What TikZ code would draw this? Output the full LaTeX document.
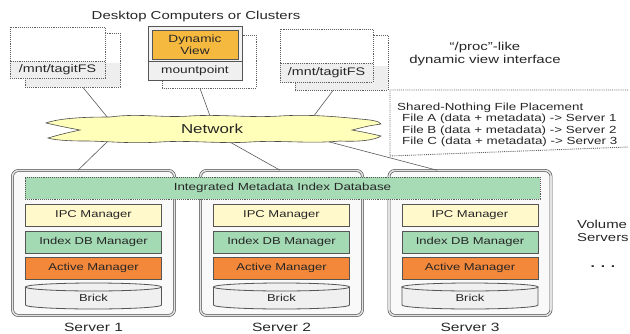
\documentclass[tikz,border=0pt]{standalone}
\usepackage{fontspec}
\setmainfont[FakeStretch=1.3]{Liberation Sans}
\usetikzlibrary{calc}
\definecolor{txt}{HTML}{262626}
\definecolor{bordc}{HTML}{555555}
\definecolor{ipcc}{HTML}{FFF9CC}
\definecolor{idxc}{HTML}{A3D9B3}
\definecolor{actc}{HTML}{F4883A}
\definecolor{dync}{HTML}{F6B940}
\definecolor{netc}{HTML}{FFFFBA}
\definecolor{dbc}{HTML}{A6DBB6}
\begin{document}
\begin{tikzpicture}[x=1pt,y=-1pt,
  lbl/.style={text=txt, inner sep=0pt},
  box/.style={draw=bordc, line width=0.8pt, inner sep=0pt, text=txt, font=\fontsize{10}{12}\selectfont},
  dotbox/.style={draw=gray!75!black, densely dotted, line width=0.9pt, inner sep=0pt, text=txt, font=\fontsize{10.5}{12}\selectfont},
  solidbox/.style={draw=bordc, line width=1pt, inner sep=0pt, text=txt, font=\fontsize{10.5}{12}\selectfont},
  conn/.style={draw=gray!70!black, line width=0.6pt},
  srv/.style={draw=gray!60!black, line width=0.6pt, double=gray!22, double distance=1.6pt, fill=gray!5, rounded corners=6pt, inner sep=0pt}
]
\useasboundingbox (0,0) rectangle (630,333);

% title
\node[lbl, font=\fontsize{11.5}{13}\selectfont] (title) at (196,17) {Desktop Computers or Clusters};

% ---- left client
\fill[gray!13] (25,63) rectangle (120,87);
\node[dotbox, minimum width=95, minimum height=54] (c1s) at (72.5,60) {};
\node[dotbox, fill=white, minimum width=95, minimum height=51] (c1) at (57.5,52.5) {};
\node[dotbox, fill=gray!13, minimum width=95, minimum height=17, font=\fontsize{11}{12}\selectfont] (m1) at (57.5,69.5) {/mnt/tagitFS};

% ---- middle client
\node[dotbox, minimum width=94, minimum height=53] (c2s) at (209,61.5) {};
\node[solidbox, fill=gray!10, minimum width=94, minimum height=54] (c2) at (195,53) {};
\node[box, fill=dync, minimum width=86, minimum height=29, align=center, font=\fontsize{10.5}{11.5}\selectfont] (dv) at (195,44.5) {Dynamic\\View};
\node[solidbox, fill=gray!12, minimum width=94, minimum height=19] (mp) at (195,70.5) {mountpoint};

% ---- right client
\fill[gray!13] (295,66) rectangle (388,90);
\node[dotbox, minimum width=93, minimum height=55] (c3s) at (341.5,62.5) {};
\node[dotbox, fill=white, minimum width=93, minimum height=53] (c3) at (326.5,55.5) {};
\node[dotbox, fill=gray!13, minimum width=93, minimum height=19, font=\fontsize{11}{12}\selectfont] (m3) at (326.5,72.5) {/mnt/tagitFS};

% proc text
\node[lbl, align=center, font=\fontsize{11.5}{13}\selectfont] (proc) at (485,54) {“/proc”-like\\dynamic view interface};

% placement callout
\draw[draw=gray!75!black, densely dotted, line width=0.9pt] (628,90) -- (390,90) -- (390,156) -- (628,147);
\node[lbl, anchor=north west, align=left, font=\fontsize{10.3}{11.6}\selectfont] (place) at (397,102.5)
 {Shared-Nothing File Placement\\
  \hspace*{5pt}File A (data + metadata) -> Server 1\\
  \hspace*{5pt}File B (data + metadata) -> Server 2\\
  \hspace*{5pt}File C (data + metadata) -> Server 3};

% ---- servers
\foreach \i/\cx in {1/93.5,2/281.5,3/470} {
  \node[srv, minimum width=162, minimum height=145] (s\i) at (\cx,243) {};
}

% network connection points
\coordinate (n1) at (108,118);
\coordinate (n2) at (210,116);
\coordinate (n3) at (313,117);
\coordinate (n4) at (108,141);
\coordinate (n5) at (228,141);
\coordinate (n6) at (322,140);
\draw[conn] ([xshift=10.5pt]c1s.south) -- (n1);
\draw[conn] ([xshift=-9pt]c2s.south) -- (n2);
\draw[conn] ([xshift=-8.5pt]c3s.south) -- (n3);
\draw[conn] (n4) -- ([xshift=-15.5pt]s1.north);
\draw[conn] (n5) -- ([xshift=-1.5pt]s2.north);
\draw[conn] (n6) -- ([xshift=-33pt]s3.north);

% network cloud
\filldraw[fill=netc, draw=gray!60!black, line width=0.6pt]
 (46,123) .. controls (60,118) and (85,117) .. (110,117)
 .. controls (140,113) and (160,118) .. (190,116)
 .. controls (220,114) and (250,118) .. (280,116)
 .. controls (310,114) and (340,117) .. (360,119)
 .. controls (372,120) and (379,121) .. (381,124)
 .. controls (368,126) .. (352,130)
 .. controls (368,133) .. (381,136)
 .. controls (375,140) and (360,142) .. (340,141)
 .. controls (310,144) and (280,140) .. (250,142)
 .. controls (220,144) and (190,140) .. (160,142)
 .. controls (130,144) and (105,141) .. (85,141)
 .. controls (68,141) and (54,140) .. (48,138)
 .. controls (62,134) .. (80,130)
 .. controls (64,127) .. cycle;
\node[lbl, font=\fontsize{13}{14}\selectfont] (net) at (212,129) {Network};

% integrated metadata index database
\node[draw=gray!70!black, densely dotted, line width=0.9pt, fill=dbc, minimum width=515, minimum height=22, inner sep=0pt, text=txt, font=\fontsize{10.3}{12}\selectfont] (db) at (282.5,188) {Integrated Metadata Index Database};

% inner components
\foreach \i/\cx in {1/93.5,2/281.5,3/470} {
  \node[box, fill=ipcc, minimum width=136, minimum height=22] (ipc\i) at (\cx,215.5) {IPC Manager};
  \node[box, fill=idxc, minimum width=136, minimum height=22] (idx\i) at (\cx,242) {Index DB Manager};
  \node[box, fill=actc, minimum width=136, minimum height=22] (act\i) at (\cx,268) {Active Manager};
  \filldraw[fill=gray!12, draw=bordc, line width=0.8pt]
    ({\cx-68},287) -- ({\cx-68},305) arc[start angle=180, end angle=0, x radius=68, y radius=4]
    -- ({\cx+68},287) -- cycle;
  \draw[draw=bordc, line width=0.8pt, fill=gray!12] (\cx,287) ellipse[x radius=68, y radius=4];
  \node[lbl, font=\fontsize{10}{12}\selectfont] (brick\i) at (\cx,298) {Brick};
  \node[lbl, font=\fontsize{12}{14}\selectfont] (lab\i) at (\cx,327) {Server \i};
}

% volume servers
\node[lbl, anchor=west, align=left, font=\fontsize{11.5}{13}\selectfont] (vol) at (577,231) {Volume\\Servers};
\node[lbl, font=\bfseries\fontsize{12}{12}\selectfont] (dots) at (603,267) {. . .};
\end{tikzpicture}
\end{document}
